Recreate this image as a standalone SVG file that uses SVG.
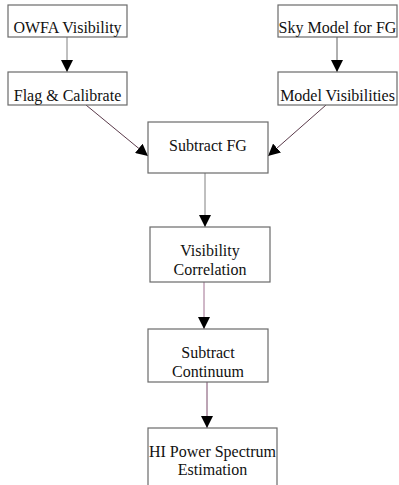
<svg xmlns="http://www.w3.org/2000/svg" width="399" height="485" viewBox="0 0 399 485">
<style>
.box{fill:#fff;stroke:#6a6a6a;stroke-width:1.2}
.t{font-family:"Liberation Serif",serif;font-size:16px;fill:#111;text-anchor:middle}
.c{fill:none;stroke-width:1}
</style>
<defs>
<marker id="ah" markerUnits="userSpaceOnUse" markerWidth="13" markerHeight="12" refX="12" refY="6" orient="auto" viewBox="0 0 13 12">
<path d="M0,0 L12,6 L0,12 z" fill="#000"/>
</marker>
</defs>
<rect width="399" height="485" fill="#fff"/>
<g id="connectors">
<line class="c" x1="67" y1="37" x2="67" y2="72" stroke="#808080" marker-end="url(#ah)"/>
<line class="c" x1="337" y1="37" x2="337" y2="72" stroke="#606060" marker-end="url(#ah)"/>
<line class="c" x1="86" y1="105" x2="148" y2="156" stroke="#5a3a4a" marker-end="url(#ah)"/>
<line class="c" x1="326" y1="105" x2="268" y2="156" stroke="#5a3a4a" marker-end="url(#ah)"/>
<line class="c" x1="205" y1="173" x2="205" y2="227" stroke="#808080" marker-end="url(#ah)"/>
<line class="c" x1="204" y1="282" x2="204" y2="329" stroke="#a07090" marker-end="url(#ah)"/>
<line class="c" x1="207" y1="382" x2="207" y2="428" stroke="#7a4a6a" marker-end="url(#ah)"/>
</g>
<g id="owfa"><rect class="box" x="8" y="5" width="119" height="32"/><text class="t" x="67.5" y="33">OWFA Visibility</text></g>
<g id="flag"><rect class="box" x="8" y="72" width="119" height="33"/><text class="t" x="67.5" y="101">Flag &amp; Calibrate</text></g>
<g id="sky"><rect class="box" x="278" y="5" width="119" height="32"/><text class="t" x="337.5" y="33">Sky Model for FG</text></g>
<g id="modelvis"><rect class="box" x="278" y="72" width="119" height="33"/><text class="t" x="337.5" y="101">Model Visibilities</text></g>
<g id="subfg"><rect class="box" x="148" y="122" width="120" height="51"/><text class="t" x="208" y="151">Subtract FG</text></g>
<g id="viscorr"><rect class="box" x="150" y="227" width="120" height="55"/><text class="t" x="210" y="256">Visibility</text><text class="t" x="210" y="275">Correlation</text></g>
<g id="subcont"><rect class="box" x="148" y="329" width="120" height="53"/><text class="t" x="208" y="358">Subtract</text><text class="t" x="208" y="377">Continuum</text></g>
<g id="hips"><rect class="box" x="148" y="428" width="129" height="70"/><text class="t" x="212.5" y="457">HI Power Spectrum</text><text class="t" x="212.5" y="475">Estimation</text></g>
</svg>
